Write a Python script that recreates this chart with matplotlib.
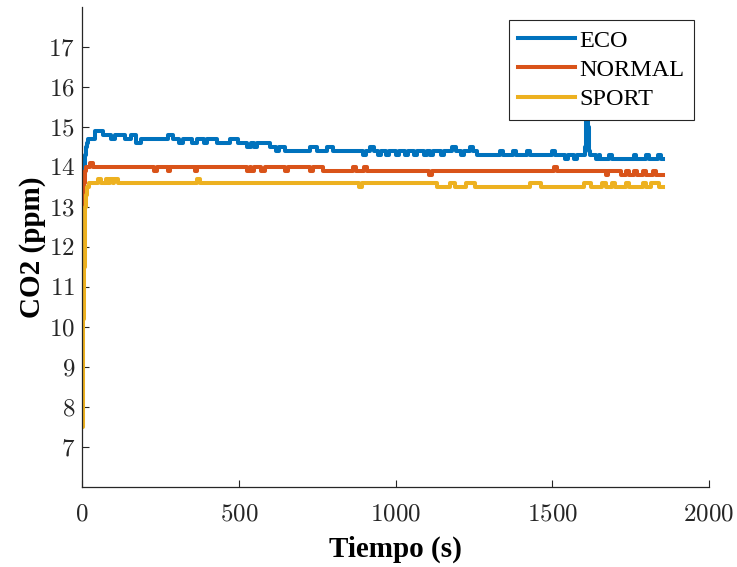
import matplotlib
matplotlib.use("Agg")
import matplotlib.pyplot as plt
from matplotlib.ticker import FuncFormatter

# --- data (time in s, CO2 in ppm) ---
eco_t = [0, 2, 4, 6, 8, 10, 13, 16, 20, 40, 67, 93, 104, 136, 157, 173, 189,
         275, 290, 308, 323, 350, 366, 390, 400, 415, 430, 472, 498, 525, 540,
         548, 557, 600, 620, 628, 647, 727, 748, 780, 801, 897, 905, 919, 930,
         945, 955, 970, 980, 1000, 1010, 1030, 1040, 1060, 1070, 1090, 1100,
         1110, 1118, 1145, 1155, 1180, 1192, 1210, 1220, 1237, 1248, 1260,
         1333, 1344, 1375, 1385, 1420, 1428, 1500, 1508, 1540, 1550, 1568,
         1578, 1604, 1607, 1610, 1613, 1616, 1620, 1640, 1648, 1652, 1680,
         1690, 1760, 1768, 1800, 1808, 1838, 1846, 1853]
eco_v = [11.7, 12.6, 13.3, 13.8, 14.1, 14.3, 14.5, 14.6, 14.7, 14.9, 14.8,
         14.7, 14.8, 14.7, 14.8, 14.6, 14.7, 14.8, 14.7, 14.6, 14.7, 14.6,
         14.7, 14.6, 14.7, 14.7, 14.6, 14.7, 14.6, 14.5, 14.6, 14.5, 14.6,
         14.5, 14.4, 14.5, 14.4, 14.5, 14.4, 14.5, 14.4, 14.3, 14.4, 14.5,
         14.4, 14.3, 14.4, 14.3, 14.4, 14.3, 14.4, 14.3, 14.4, 14.3, 14.4,
         14.3, 14.4, 14.3, 14.4, 14.3, 14.4, 14.5, 14.4, 14.3, 14.4, 14.5,
         14.4, 14.3, 14.4, 14.3, 14.4, 14.3, 14.4, 14.3, 14.4, 14.3, 14.2,
         14.3, 14.2, 14.3, 14.5, 15.5, 15.9, 15.0, 14.4, 14.3, 14.2, 14.3,
         14.2, 14.3, 14.2, 14.3, 14.2, 14.3, 14.2, 14.3, 14.2, 14.2]

normal_t = [0, 2, 4, 6, 8, 10, 14, 25, 35, 230, 238, 274, 282, 360, 368, 527,
            535, 540, 550, 572, 584, 647, 657, 727, 738, 770, 865, 873, 900,
            910, 1106, 1116, 1505, 1515, 1670, 1678, 1720, 1735, 1745, 1760,
            1770, 1790, 1800, 1820, 1830, 1853]
normal_v = [12.4, 12.9, 13.3, 13.6, 13.8, 13.9, 14.0, 14.1, 14.0, 13.9, 14.0,
            13.9, 14.0, 13.9, 14.0, 13.9, 14.0, 13.9, 14.0, 13.9, 14.0, 13.9,
            14.0, 13.9, 14.0, 13.9, 14.0, 13.9, 14.0, 13.9, 13.8, 13.9, 14.0,
            13.9, 13.8, 13.9, 13.8, 13.9, 13.8, 13.9, 13.8, 13.9, 13.8, 13.9,
            13.8, 13.8]

sport_t = [0, 2, 4, 6, 8, 10, 13, 17, 22, 51, 60, 77, 83, 88, 98, 102, 115,
           366, 375, 882, 892, 1132, 1175, 1190, 1225, 1255, 1430, 1465, 1600,
           1625, 1660, 1670, 1690, 1700, 1735, 1745, 1790, 1800, 1815, 1840,
           1853]
sport_v = [7.5, 8.8, 10.2, 11.5, 12.5, 13.0, 13.3, 13.5, 13.6, 13.7, 13.6,
           13.7, 13.6, 13.7, 13.6, 13.7, 13.6, 13.7, 13.6, 13.5, 13.6, 13.5,
           13.6, 13.5, 13.6, 13.5, 13.6, 13.5, 13.6, 13.5, 13.6, 13.5, 13.6,
           13.5, 13.6, 13.5, 13.6, 13.5, 13.6, 13.5, 13.5]

labels = ["ECO", "NORMAL", "SPORT"]
colors = ["#0072BD", "#D95319", "#EDB120"]

x_ticks = [0, 500, 1000, 1500, 2000]
y_ticks = [7, 8, 9, 10, 11, 12, 13, 14, 15, 16, 17]

plt.rcParams["mathtext.fontset"] = "cm"
plt.rcParams["font.family"] = ["Liberation Serif", "DejaVu Serif"]

fig = plt.figure(figsize=(7.37, 5.67), dpi=100)
ax = fig.add_axes((0.1113, 0.1411, 0.8507, 0.8466))

for t, v, lab, col in zip([eco_t, normal_t, sport_t],
                          [eco_v, normal_v, sport_v], labels, colors):
    ax.plot(t, v, drawstyle="steps-post", color=col, lw=2.9, label=lab,
            solid_joinstyle="round")

ax.set_xlim(0, 2000)
ax.set_ylim(6, 18)
ax.set_xticks(x_ticks)
ax.set_yticks(y_ticks)
fmt = FuncFormatter(lambda val, pos: f"${val:g}$")
ax.xaxis.set_major_formatter(fmt)
ax.yaxis.set_major_formatter(fmt)
ax.tick_params(direction="in", length=5, width=0.8, colors="#262626",
               labelsize=18, labelcolor="#262626")
ax.tick_params(axis="x", pad=12)
ax.tick_params(axis="y", pad=5)

for side in ["top", "right"]:
    ax.spines[side].set_visible(False)
for side in ["left", "bottom"]:
    ax.spines[side].set_color("#262626")
    ax.spines[side].set_linewidth(0.9)

ax.set_xlabel("Tiempo (s)", fontsize=21, fontweight="bold", labelpad=7)
ax.set_ylabel("CO2 (ppm)", fontsize=21, fontweight="bold", labelpad=2)

leg = ax.legend(loc="upper right", bbox_to_anchor=(0.976, 0.973),
                borderaxespad=0, fontsize=17.5, handlelength=2.35,
                handletextpad=0.15, labelspacing=0.3, borderpad=0.4,
                fancybox=False, framealpha=1, edgecolor="#262626")
leg.get_frame().set_linewidth(0.8)

fig.savefig("out.png", dpi=100)
